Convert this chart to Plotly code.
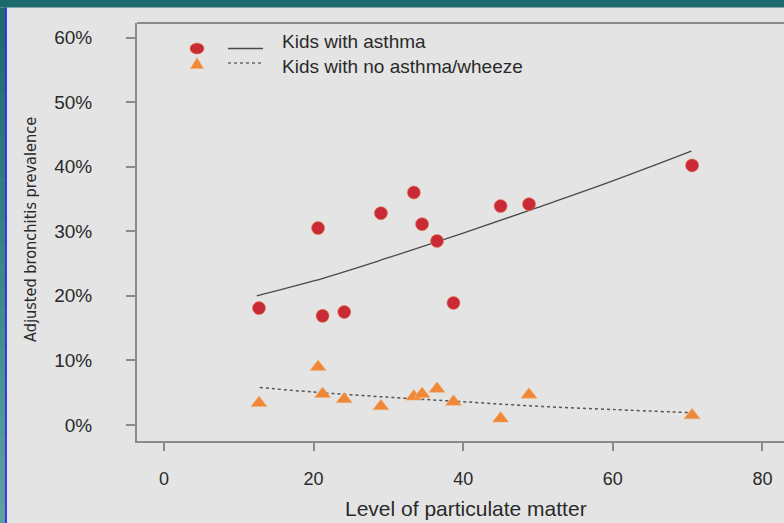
import plotly.graph_objects as go

# Particulate matter level for each community
pm_level = [12.7, 20.6, 21.2, 24.1, 29.0, 33.4, 34.5, 36.5, 38.7, 45.0, 48.8, 70.6]

# Adjusted bronchitis prevalence (fraction)
asthma_prev = [0.181, 0.305, 0.169, 0.175, 0.328, 0.360, 0.311, 0.285, 0.189, 0.339, 0.342, 0.402]
no_asthma_prev = [0.034, 0.090, 0.048, 0.040, 0.029, 0.044, 0.048, 0.056, 0.036, 0.010, 0.047, 0.015]

# Fitted trend curves
asthma_fit_x = [12.4, 20, 30, 40, 50, 60, 70.5]
asthma_fit_y = [0.200, 0.223, 0.259, 0.297, 0.337, 0.378, 0.424]
no_asthma_fit_x = [12.8, 20, 30, 40, 50, 60, 70.4]
no_asthma_fit_y = [0.058, 0.051, 0.043, 0.036, 0.029, 0.024, 0.019]

y_ticks = [0, 0.1, 0.2, 0.3, 0.4, 0.5, 0.6]
y_tick_text = ["0%", "10%", "20%", "30%", "40%", "50%", "60%"]
x_ticks = [0, 20, 40, 60, 80]

series_names = ["Kids with asthma", "Kids with no asthma/wheeze"]

RED = "#c92a36"
ORANGE = "#ee8838"
BG = "#e4e4e4"
FRAME = "#8a8a8a"
TEXT = "#2a2a2a"
FONT = "Liberation Sans, Arial, sans-serif"

W, H = 784, 523
L, R, T, B = 137, 0, 23, 82
PW, PH = W - L - R, H - T - B


def px(x):
    return (x - L) / PW


def py(y):
    return (H - B - y) / PH


fig = go.Figure()

fig.add_trace(go.Scatter(
    x=asthma_fit_x, y=asthma_fit_y, mode="lines",
    line=dict(color="#4a4a4a", width=1.3, shape="spline"),
    showlegend=False, hoverinfo="skip"))
fig.add_trace(go.Scatter(
    x=no_asthma_fit_x, y=no_asthma_fit_y, mode="lines",
    line=dict(color="#555555", width=1.5, dash="dot", shape="spline"),
    showlegend=False, hoverinfo="skip"))
fig.add_trace(go.Scatter(
    x=pm_level, y=asthma_prev, mode="markers", name=series_names[0],
    marker=dict(symbol="circle", size=13, color=RED,
                line=dict(color="#e07a50", width=0.6)),
    showlegend=False))
fig.add_trace(go.Scatter(
    x=pm_level, y=no_asthma_prev, mode="markers", name=series_names[1],
    marker=dict(symbol="triangle-up", size=14, color=ORANGE,
                line=dict(color="#f4b070", width=0.6)),
    showlegend=False))

shapes = []
# top edge of the box
shapes.append(dict(type="line", xref="paper", yref="paper", x0=0, x1=1, y0=1, y1=1,
                   line=dict(color=FRAME, width=2)))
# slide border: top band
shapes.append(dict(type="rect", xref="paper", yref="paper", x0=px(-2), x1=px(W + 2),
                   y0=py(7.5), y1=py(-2), fillcolor="#1c6a6c", line=dict(width=0),
                   layer="above"))
# slide border: left band with vertical gradient
n_seg = 24
c_top = (28, 106, 108)
c_bot = (92, 160, 158)
for i in range(n_seg):
    t = i / (n_seg - 1)
    c = tuple(int(round(a + (b - a) * t)) for a, b in zip(c_top, c_bot))
    y0 = 7.5 + (H - 7.5) * i / n_seg
    y1 = 7.5 + (H - 7.5) * (i + 1) / n_seg
    shapes.append(dict(type="rect", xref="paper", yref="paper", x0=px(-2), x1=px(5.5),
                       y0=py(y1 + 0.5), y1=py(y0), fillcolor="rgb(%d,%d,%d)" % c,
                       line=dict(width=0), layer="above"))
shapes.append(dict(type="line", xref="paper", yref="paper", x0=px(6), x1=px(6),
                   y0=py(H + 2), y1=py(7.5), line=dict(color="#1414f0", width=1.6),
                   layer="above"))

# legend keys
shapes.append(dict(type="circle", xref="paper", yref="paper", xsizemode="pixel",
                   ysizemode="pixel", xanchor=px(197), yanchor=py(48.5),
                   x0=-7, x1=7, y0=-5.5, y1=5.5, fillcolor=RED,
                   line=dict(color="#e07a50", width=0.6)))
shapes.append(dict(type="path", xref="paper", yref="paper", xsizemode="pixel",
                   ysizemode="pixel", xanchor=px(197), yanchor=py(63.5),
                   path="M -6.5 -5 L 6.5 -5 L 0 6 Z", fillcolor=ORANGE,
                   line=dict(color="#f4b070", width=0.6)))
shapes.append(dict(type="line", xref="paper", yref="paper", x0=px(228), x1=px(263),
                   y0=py(48.5), y1=py(48.5), line=dict(color="#4a4a4a", width=1.3)))
shapes.append(dict(type="line", xref="paper", yref="paper", x0=px(228), x1=px(263),
                   y0=py(63), y1=py(63), line=dict(color="#666666", width=1.3, dash="dot")))

annotations = [
    dict(text=series_names[0] + "<br>" + series_names[1], xref="paper", yref="paper",
         x=px(280), y=py(54), xanchor="left", yanchor="middle", align="left",
         showarrow=False, font=dict(family=FONT, size=19, color=TEXT)),
    dict(text="Level of particulate matter", xref="paper", yref="paper",
         x=px(466), y=py(508), xanchor="center", yanchor="middle", showarrow=False,
         font=dict(family=FONT, size=21, color=TEXT)),
    dict(text="Adjusted bronchitis prevalence", xref="paper", yref="paper",
         x=px(30), y=py(230), xanchor="center", yanchor="middle", showarrow=False,
         textangle=-90,
         font=dict(family="Liberation Sans Narrow, Arial Narrow, DejaVu Sans Condensed, sans-serif",
                   size=16.2, color=TEXT)),
]

fig.update_layout(
    width=W, height=H,
    margin=dict(l=L, r=R, t=T, b=B, pad=0),
    paper_bgcolor=BG, plot_bgcolor=BG,
    showlegend=False,
    shapes=shapes,
    annotations=annotations,
    xaxis=dict(range=[(137 - 164) / 7.48, (784 - 164) / 7.48],
               tickvals=x_ticks, ticks="outside", ticklen=8, tickwidth=1.5,
               tickcolor=FRAME, showline=True, linecolor=FRAME, linewidth=2,
               showgrid=False, zeroline=False, ticklabelstandoff=12,
               tickfont=dict(family=FONT, size=18, color=TEXT)),
    yaxis=dict(range=[-16 / 645.8, 402 / 645.8],
               tickvals=y_ticks, ticktext=y_tick_text, ticks="outside", ticklen=9,
               tickwidth=1.5, tickcolor=FRAME, showline=True, linecolor=FRAME,
               linewidth=2, showgrid=False, zeroline=False, ticklabelstandoff=30,
               tickfont=dict(family=FONT, size=19, color=TEXT)),
)

fig.write_html("out.html")
